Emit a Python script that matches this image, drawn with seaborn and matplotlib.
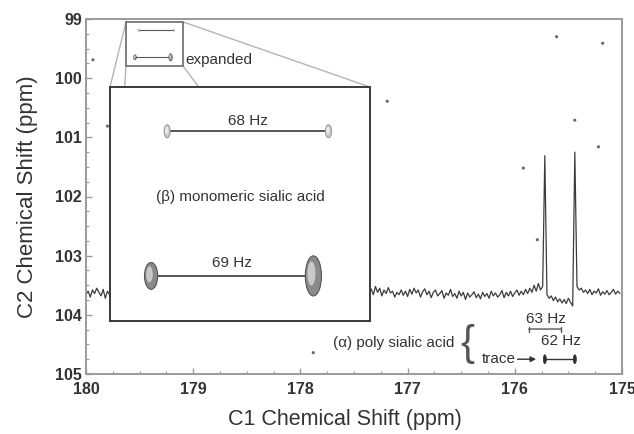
"""2D C1-C2 correlation map of sialic acid with a 1D trace and an expanded region."""

import matplotlib

matplotlib.use("Agg")
import matplotlib.pyplot as plt
from matplotlib.patches import Ellipse, Rectangle
import numpy as np
import pandas as pd
import seaborn as sns


# 1D trace along C1, left part (180.00 -> 179.78 ppm), C2 offset values
trace_left_start, trace_left_stop = 180.00, 179.78
trace_left = [103.66, 103.60, 103.70, 103.58, 103.64, 103.55,
              103.62, 103.68, 103.57, 103.72, 103.60, 103.66]

# 1D trace, right part (177.34 -> 175.02 ppm), both alpha peaks included
trace_right_start, trace_right_stop = 177.34, 175.02
trace_right = [
    103.56, 103.66, 103.52, 103.62, 103.55, 103.68, 103.58, 103.64, 103.54, 103.63,
    103.60, 103.70, 103.62, 103.66, 103.58, 103.67, 103.60, 103.69, 103.57, 103.65,
    103.55, 103.63, 103.58, 103.70, 103.61, 103.56, 103.66, 103.60, 103.71, 103.62,
    103.58, 103.68, 103.64, 103.59, 103.72, 103.63, 103.67, 103.57, 103.69, 103.64,
    103.72, 103.60, 103.68, 103.62, 103.74, 103.63, 103.70, 103.66, 103.61, 103.71,
    103.65, 103.73, 103.62, 103.69, 103.64, 103.72, 103.60, 103.68, 103.63, 103.70,
    103.66, 103.59, 103.71, 103.62, 103.68, 103.60, 103.69, 103.63, 103.58, 103.67,
    103.60, 103.66, 103.57, 103.64, 103.55, 103.62, 103.50, 103.60, 103.47, 103.58,
    103.52, 101.31, 103.66, 103.72, 103.68, 103.76, 103.70, 103.78, 103.73, 103.80,
    103.74, 103.81, 103.72, 103.79, 103.85, 101.25, 103.52, 103.58, 103.55, 103.62,
    103.58, 103.64, 103.57, 103.66, 103.60, 103.63, 103.56, 103.67, 103.61, 103.65,
    103.59, 103.66, 103.62, 103.57, 103.65, 103.60, 103.64,
]

# beta (monomeric) cross peaks: top pair = 68 Hz, bottom pair = 69 Hz
beta_c1 = [179.510, 179.180, 179.543, 179.211]
beta_c2 = [99.190, 99.190, 99.648, 99.648]
beta_width = [0.0123, 0.0123, 0.027, 0.033]
beta_height = [0.041, 0.041, 0.085, 0.127]
beta_strong = [False, False, True, True]
beta_labels = ["68 Hz", "69 Hz"]

# alpha (poly) cross peaks seen in the trace
alpha_c1 = [175.72, 175.44]
alpha_c2 = 104.75
alpha_labels = ["63 Hz", "62 Hz"]

# isolated noise specks in the 2D map
speck_c1 = [179.935, 179.80, 177.19, 175.61, 175.18, 175.44, 175.22, 175.92, 175.79, 177.88]
speck_c2 = [99.69, 100.81, 100.39, 99.30, 99.41, 100.71, 101.16, 101.52, 102.73, 104.64]

x_ticks = [175, 176, 177, 178, 179, 180]
x_tick_labels = ["175", "176", "177", "178", "179", "180"]
y_ticks = [99, 100, 101, 102, 103, 104, 105]
y_tick_labels = ["99", "100", "101", "102", "103", "104", "105"]

# region that gets expanded and where the expansion is drawn
zoom_c1 = (179.627, 179.095)
zoom_c2 = (99.05, 99.79)
inset_c1 = (179.776, 177.35)
inset_c2 = (100.15, 104.10)

TEXT = "#333333"
AXIS_GREY = "#9a9a9a"


def draw_peak(axis, x, y, w, h, strong, lw):
    if strong:
        face, edge, light = "#8a8a8a", "#555555", "#c8c8c8"
    else:
        face, edge, light = "#cfcfcf", "#979797", "#ececec"
    axis.add_patch(Ellipse((x, y), w, h, facecolor=face, edgecolor=edge, lw=lw, zorder=4))
    axis.add_patch(Ellipse((x + w * 0.12, y - h * 0.06), w * 0.5, h * 0.6,
                           facecolor=light, edgecolor="none", zorder=4))


def draw_beta_peaks(axis, lw_line, lw_edge):
    for i in range(4):
        draw_peak(axis, beta_c1[i], beta_c2[i], beta_width[i], beta_height[i],
                  beta_strong[i], lw_edge)
    for k in range(2):
        a, b = 2 * k, 2 * k + 1
        axis.plot([beta_c1[a] - beta_width[a] / 2, beta_c1[b] + beta_width[b] / 2],
                  [beta_c2[a], beta_c2[b]], color="#555555", lw=lw_line, zorder=3)


sns.set_theme(style="ticks")
plt.rcParams["font.family"] = ["Liberation Sans", "DejaVu Sans"]

fig = plt.figure(figsize=(6.34, 4.34), dpi=100)
ax = fig.add_axes([86 / 634, 1 - 374 / 434, 536 / 634, 355 / 434])

left_df = pd.DataFrame({
    "c1": np.linspace(trace_left_start, trace_left_stop, len(trace_left)),
    "c2": trace_left,
})
right_df = pd.DataFrame({
    "c1": np.linspace(trace_right_start, trace_right_stop, len(trace_right)),
    "c2": trace_right,
})
for df in (left_df, right_df):
    sns.lineplot(data=df, x="c1", y="c2", ax=ax, color="#3c3c3c", lw=0.9,
                 sort=False, estimator=None, zorder=2)

sns.scatterplot(x=speck_c1, y=speck_c2, ax=ax, s=5, color="#666666",
                edgecolor="none", zorder=2)

# small box + connectors to the expansion
ax.add_patch(Rectangle((zoom_c1[0], zoom_c2[0]), zoom_c1[1] - zoom_c1[0],
                       zoom_c2[1] - zoom_c2[0], fill=False, edgecolor="#6a6a6a",
                       lw=1.2, zorder=3))
for cx in range(2):
    for cy in range(2):
        ax.plot([zoom_c1[cx], inset_c1[cx]], [zoom_c2[cy], inset_c2[cy]],
                color="#b4b4b4", lw=1.0, zorder=1)
draw_beta_peaks(ax, 0.8, 0.4)
ax.text(179.07, 99.69, "expanded", fontsize=11, color=TEXT, va="center", ha="left")

# alpha annotations under the trace
for c in alpha_c1:
    ax.add_patch(Ellipse((c, alpha_c2), 0.028, 0.15, facecolor="#2e2e2e",
                         edgecolor="#2e2e2e", lw=0.5, zorder=4))
ax.plot([alpha_c1[0], alpha_c1[1]], [alpha_c2, alpha_c2], color="#333333", lw=1.0, zorder=3)
ax.annotate("", xy=(175.775, alpha_c2), xytext=(176.0, alpha_c2),
            arrowprops=dict(arrowstyle="-|>", color="#333333", lw=1.0,
                            mutation_scale=8))
ax.text(176.15, alpha_c2, "trace", fontsize=11, color=TEXT, ha="center", va="center")
ax.annotate("", xy=(175.57, 104.24), xytext=(175.87, 104.24),
            arrowprops=dict(arrowstyle="|-|, widthA=0.15, widthB=0.15",
                            color="#555555", lw=1.0, shrinkA=0, shrinkB=0))
ax.text(175.71, 104.07, alpha_labels[0], fontsize=11, color=TEXT, ha="center", va="center")
ax.text(175.57, 104.44, alpha_labels[1], fontsize=11, color=TEXT, ha="center", va="center")
ax.text(176.56, 104.48, "(α) poly sialic acid", fontsize=11, color=TEXT,
        ha="right", va="center")
ax.text(176.44, 104.49, "{", fontsize=30, color="#555555", ha="center", va="center",
        fontweight="light")

ax.set_xlim(180, 175)
ax.set_ylim(105, 99)
ax.set_xticks(x_ticks, labels=x_tick_labels, fontweight="bold")
ax.set_yticks(y_ticks, labels=y_tick_labels, fontweight="bold")
ax.xaxis.set_minor_locator(matplotlib.ticker.MultipleLocator(0.25))
ax.yaxis.set_minor_locator(matplotlib.ticker.MultipleLocator(0.25))
ax.tick_params(which="both", direction="in", color=AXIS_GREY, labelcolor=TEXT,
               labelsize=11.5, top=False, right=False)
ax.tick_params(which="major", length=4, width=1.0)
ax.tick_params(which="minor", length=2.5, width=0.8)
ax.tick_params(axis="x", pad=6)
ax.tick_params(axis="y", pad=3)
for spine in ax.spines.values():
    spine.set_visible(True)
    spine.set_color(AXIS_GREY)
    spine.set_linewidth(1.4)

ax.set_xlabel("C1 Chemical Shift (ppm)", fontsize=15.5, color=TEXT)
ax.set_ylabel("C2 Chemical Shift (ppm)", fontsize=16, color=TEXT)
ax.xaxis.set_label_coords((345 - 86) / 536, -0.10)
ax.yaxis.set_label_coords(-0.09, 0.50)

# expanded view
bounds = [
    (180 - inset_c1[0]) / 5,
    (105 - inset_c2[1]) / 6,
    (inset_c1[0] - inset_c1[1]) / 5,
    (inset_c2[1] - inset_c2[0]) / 6,
]
axins = ax.inset_axes(bounds)
axins.set_facecolor("white")
axins.set_xlim(zoom_c1)
axins.set_ylim(zoom_c2[1], zoom_c2[0])
axins.set_xticks([])
axins.set_yticks([])
for spine in axins.spines.values():
    spine.set_color("#3a3a3a")
    spine.set_linewidth(1.4)
draw_beta_peaks(axins, 1.4, 0.8)
for k in range(2):
    a, b = 2 * k, 2 * k + 1
    axins.annotate(beta_labels[k], xy=((beta_c1[a] + beta_c1[b]) / 2, beta_c2[a]),
                   xytext=(0, 2 + 2 * k), textcoords="offset points",
                   ha="center", va="bottom", fontsize=11, color=TEXT)
axins.text(0.50, 0.53, "(β) monomeric sialic acid", transform=axins.transAxes,
           ha="center", va="center", fontsize=11, color=TEXT)

fig.savefig("out.png", dpi=100)
